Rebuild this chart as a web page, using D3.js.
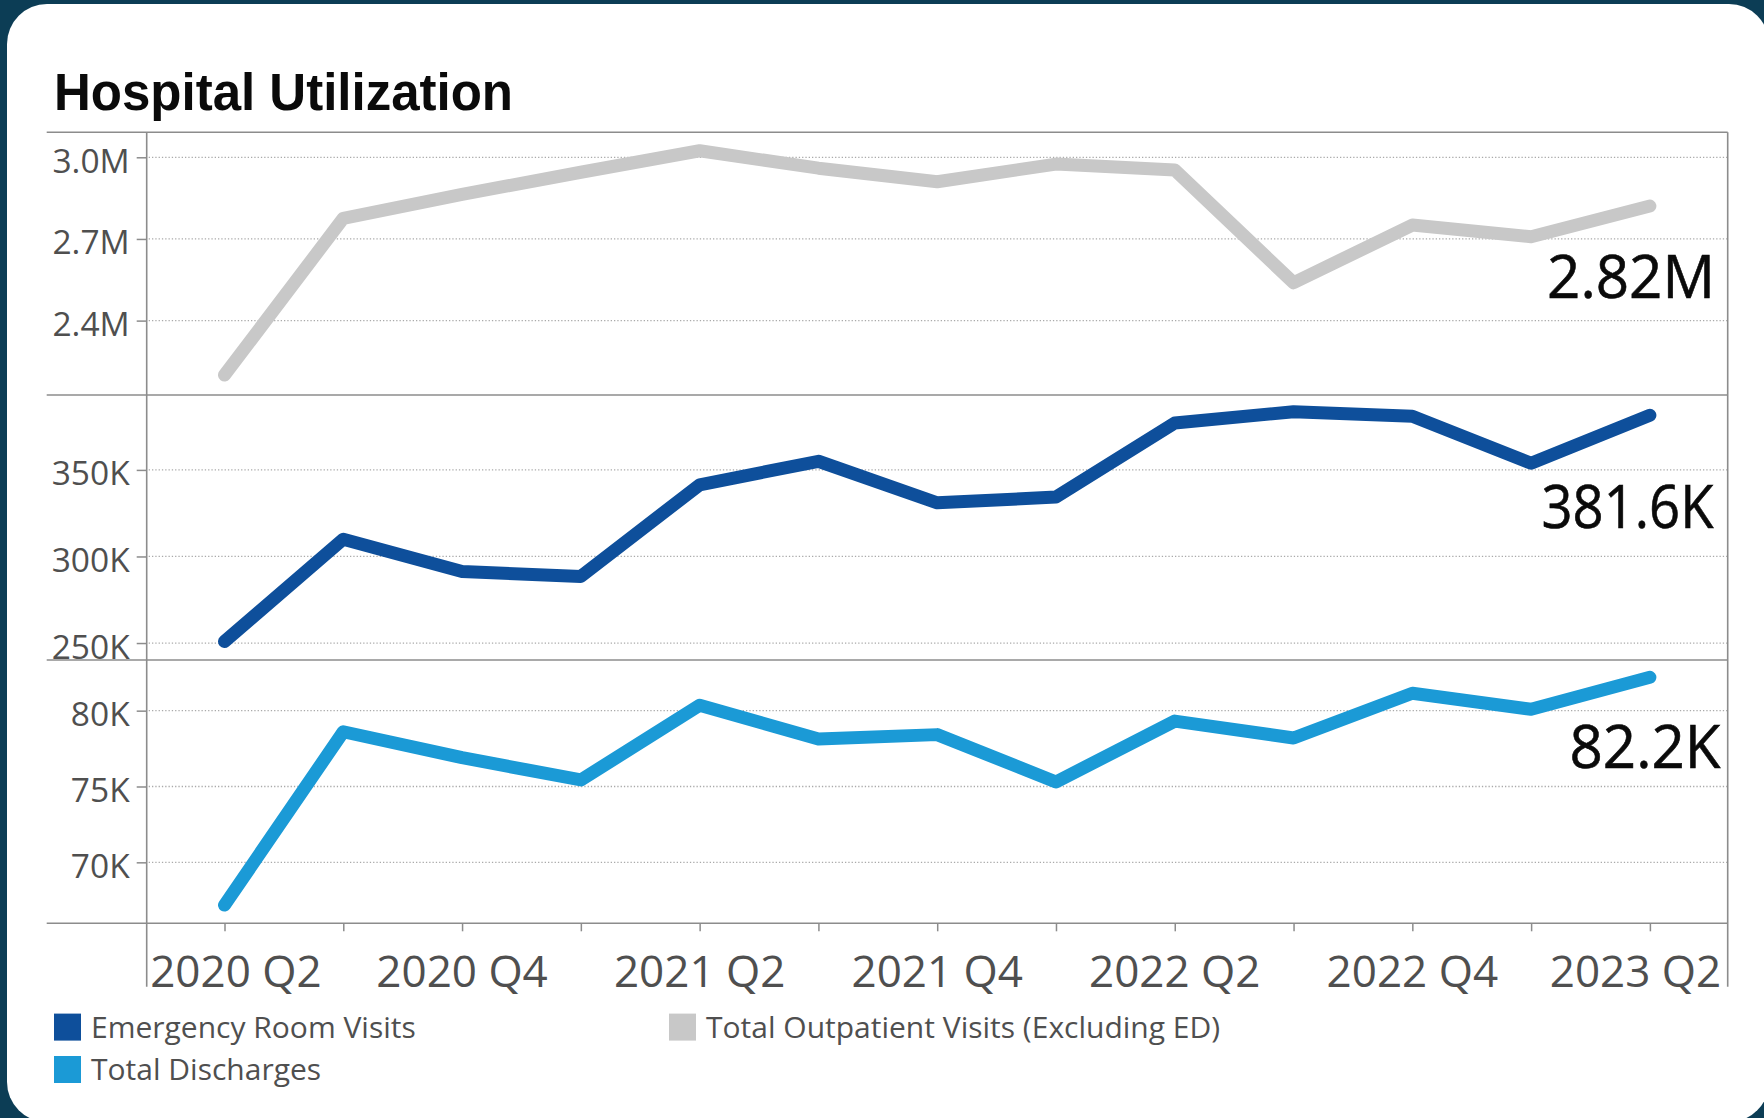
<!DOCTYPE html>
<html>
<head>
<meta charset="utf-8">
<script src="https://cdn.jsdelivr.net/npm/d3@7"></script>
<style>
  html, body { margin: 0; padding: 0; background: #0c3d55; }
  svg { display: block; }
</style>
</head>
<body>
<svg id="chart" width="1764" height="1118"></svg>
<script>
// ---- Data ----
const quarters = ["2020 Q2","2020 Q3","2020 Q4","2021 Q1","2021 Q2","2021 Q3","2021 Q4",
                  "2022 Q1","2022 Q2","2022 Q3","2022 Q4","2023 Q1","2023 Q2"];
const xTickLabels = ["2020 Q2","2020 Q4","2021 Q2","2021 Q4","2022 Q2","2022 Q4","2023 Q2"];

const outpatientVisits = [2200000, 2776000, 2864000, 2945000, 3024000, 2960000, 2910000,
                          2975000, 2953000, 2539000, 2751000, 2708000, 2821000];
const erVisits = [250900, 310000, 291300, 288500, 341400, 355000, 331000,
                  334300, 377100, 383600, 381000, 353800, 381600];
const discharges = [67180, 78610, 76900, 75430, 80350, 78130, 78420,
                    75300, 79310, 78200, 81150, 80090, 82200];

const outpatientTicks = [2400000, 2700000, 3000000];
const erTicks = [250000, 300000, 350000];
const dischargeTicks = [70000, 75000, 80000];

const seriesNames = ["Emergency Room Visits", "Total Discharges", "Total Outpatient Visits (Excluding ED)"];
const seriesColors = ["#0e4f9b", "#1b9ad6", "#c8c8c8"];

// ---- Layout ----
const svg = d3.select("#chart");
const left = 146.7, right = 1727.7;
const lineStartX = 46.7;
const panelTops = [132.3, 395, 660];
const panelBottoms = [395, 660, 923.3];
const axisExtendY = 986.7;
const textColor = "#4f4f4f";

// card
svg.append("rect").attr("x", 7).attr("y", 4).attr("width", 1762).attr("height", 1118)
  .attr("rx", 40).attr("ry", 40).attr("fill", "#ffffff");

// title
svg.append("text").attr("x", 54).attr("y", 110)
  .attr("font-family", "'Liberation Sans', Arial, sans-serif")
  .attr("font-weight", "bold").attr("font-size", 51).attr("fill", "#0a0a0a")
  .text("Hospital Utilization");

const x = d3.scalePoint().domain(quarters).range([left, right]).padding(0.655);

const fmtM = v => (v / 1e6).toFixed(1) + "M";
const fmtK = v => (v / 1e3) + "K";

const panels = [
  { values: outpatientVisits, ticks: outpatientTicks, fmt: fmtM, color: seriesColors[2],
    domain: [2126700, 3091800], label: (outpatientVisits[12] / 1e6).toFixed(2) + "M",
    labelY: 298.3, labelX: 1715, labelLen: 168 },
  { values: erVisits, ticks: erTicks, fmt: fmtK, color: seriesColors[0],
    domain: [240200, 393270], label: (erVisits[12] / 1e3).toFixed(1) + "K",
    labelY: 528.3, labelX: 1713.5, labelLen: 172 },
  { values: discharges, ticks: dischargeTicks, fmt: fmtK, color: seriesColors[1],
    domain: [65980, 83340], label: (discharges[12] / 1e3).toFixed(1) + "K",
    labelY: 768.3, labelX: 1720.5, labelLen: 151 }
];

const gGrid = svg.append("g");
const gAxis = svg.append("g");
const gLines = svg.append("g");
const gText = svg.append("g");

panels.forEach((p, i) => {
  const y = d3.scaleLinear().domain(p.domain).range([panelBottoms[i], panelTops[i]]);
  // gridlines
  gGrid.selectAll(null).data(p.ticks).enter().append("line")
    .attr("x1", left + 2).attr("x2", right)
    .attr("y1", d => y(d)).attr("y2", d => y(d))
    .attr("stroke", "#aaaaaa").attr("stroke-width", 1.3).attr("stroke-dasharray", "1.3,2");
  // y axis with ticks
  const axis = d3.axisLeft(y).tickValues(p.ticks).tickFormat(p.fmt).tickSize(10).tickPadding(7);
  const ga = gAxis.append("g").attr("transform", `translate(${left},0)`).call(axis);
  ga.select(".domain").remove();
  ga.selectAll(".tick line").attr("stroke", "#8c8c8c").attr("stroke-width", 1.5);
  ga.selectAll(".tick text")
    .attr("font-family", "'Open Sans', sans-serif").attr("font-size", 33.5)
    .attr("fill", textColor).attr("dy", null).attr("y", 15);
  // line
  const line = d3.line().x((d, j) => x(quarters[j])).y(d => y(d));
  gLines.append("path").datum(p.values).attr("d", line)
    .attr("fill", "none").attr("stroke", p.color).attr("stroke-width", 13)
    .attr("stroke-linecap", "round").attr("stroke-linejoin", "round");
  // value label
  gText.append("text").attr("x", p.labelX).attr("y", p.labelY)
    .attr("text-anchor", "end").attr("font-family", "'Open Sans', sans-serif")
    .attr("font-size", 60).attr("fill", "#0a0a0a")
    .attr("stroke", "#0a0a0a").attr("stroke-width", 0.6)
    .attr("textLength", p.labelLen).attr("lengthAdjust", "spacingAndGlyphs")
    .text(p.label);
});

// horizontal panel borders
const hLines = panelTops.concat([panelBottoms[2]]);
gAxis.selectAll(null).data(hLines).enter().append("line")
  .attr("x1", lineStartX).attr("x2", right)
  .attr("y1", d => d).attr("y2", d => d)
  .attr("stroke", "#8c8c8c").attr("stroke-width", 1.6);
// vertical axis lines
[left, right].forEach(xx => {
  gAxis.append("line").attr("x1", xx).attr("x2", xx)
    .attr("y1", panelTops[0]).attr("y2", axisExtendY)
    .attr("stroke", "#8c8c8c").attr("stroke-width", 1.6);
});

// x axis
const xAxis = d3.axisBottom(x).tickSize(8).tickFormat("");
const gx = gAxis.append("g").attr("transform", `translate(0,${panelBottoms[2]})`).call(xAxis);
gx.select(".domain").remove();
gx.selectAll(".tick line").attr("stroke", "#8c8c8c").attr("stroke-width", 1.5);

gText.selectAll(null).data(xTickLabels).enter().append("text")
  .attr("x", (d, i) => i === 0 ? left + 3.5 : (i === xTickLabels.length - 1 ? right - 6.5 : x(d)))
  .attr("y", 986.5)
  .attr("text-anchor", (d, i) => i === 0 ? "start" : (i === xTickLabels.length - 1 ? "end" : "middle"))
  .attr("font-family", "'Open Sans', sans-serif").attr("font-size", 44).attr("fill", textColor)
  .text(d => d);

// legend
const legendItems = [
  { name: seriesNames[0], color: seriesColors[0], x: 54, y: 1013.6 },
  { name: seriesNames[1], color: seriesColors[1], x: 54, y: 1056 },
  { name: seriesNames[2], color: seriesColors[2], x: 669, y: 1013.6 }
];
const gl = svg.append("g");
legendItems.forEach(it => {
  gl.append("rect").attr("x", it.x).attr("y", it.y).attr("width", 27).attr("height", 27)
    .attr("fill", it.color);
  gl.append("text").attr("x", it.x + 37).attr("y", it.y + 24)
    .attr("font-family", "'Open Sans', sans-serif").attr("font-size", 30).attr("fill", textColor)
    .text(it.name);
});
</script>
</body>
</html>
